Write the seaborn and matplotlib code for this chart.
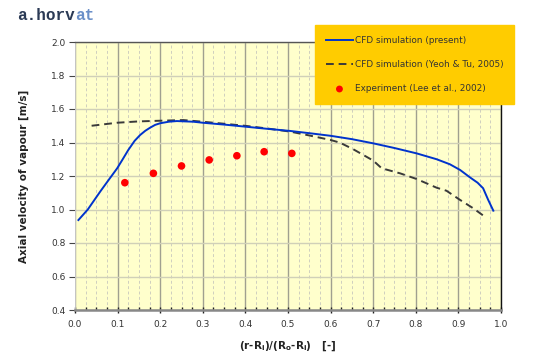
import matplotlib
matplotlib.use("Agg")
import matplotlib.pyplot as plt
import seaborn as sns
import pandas as pd
from matplotlib.ticker import MultipleLocator

# Data
present_x = [0.008, 0.03, 0.06, 0.08, 0.099, 0.112, 0.125, 0.14, 0.153, 0.165, 0.176, 0.188, 0.2,
             0.22, 0.239, 0.278, 0.3, 0.35, 0.402, 0.45, 0.505, 0.552, 0.6, 0.65, 0.7, 0.75,
             0.802, 0.849, 0.88, 0.904, 0.927, 0.945, 0.958, 0.97, 0.982]
present_y = [0.937, 1.0, 1.11, 1.18, 1.246, 1.30, 1.355, 1.41, 1.445, 1.47, 1.488, 1.505, 1.515,
             1.524, 1.528, 1.524, 1.518, 1.507, 1.494, 1.482, 1.469, 1.455, 1.44, 1.42, 1.395,
             1.367, 1.335, 1.30, 1.27, 1.236, 1.192, 1.16, 1.127, 1.057, 0.993]

yeoh_x = [0.039, 0.099, 0.15, 0.2, 0.254, 0.3, 0.35, 0.402, 0.45, 0.505, 0.552, 0.6, 0.622, 0.653,
          0.7, 0.72, 0.763, 0.802, 0.849, 0.872, 0.904, 0.935, 0.962]
yeoh_y = [1.50, 1.518, 1.526, 1.530, 1.534, 1.524, 1.512, 1.499, 1.484, 1.465, 1.441, 1.415, 1.399,
          1.36, 1.292, 1.246, 1.216, 1.182, 1.13, 1.112, 1.057, 1.007, 0.957]

exp_x = [0.117, 0.184, 0.250, 0.315, 0.380, 0.444, 0.509]
exp_y = [1.16, 1.216, 1.26, 1.296, 1.321, 1.345, 1.335]

x_ticks = [0.0, 0.1, 0.2, 0.3, 0.4, 0.5, 0.6, 0.7, 0.8, 0.9, 1.0]
y_ticks = [0.4, 0.6, 0.8, 1.0, 1.2, 1.4, 1.6, 1.8, 2.0]

df_p = pd.DataFrame({"x": present_x, "y": present_y})
df_y = pd.DataFrame({"x": yeoh_x, "y": yeoh_y})
df_e = pd.DataFrame({"x": exp_x, "y": exp_y})

fig = plt.figure(figsize=(5.6, 3.63), dpi=100)
ax = fig.add_axes([75/560, 1-310/363, 426/560, 268/363])
ax.set_facecolor("#FFFFCC")

sns.lineplot(data=df_p, x="x", y="y", ax=ax, color="#0033CC", linewidth=1.4,
             label="CFD simulation (present)", sort=False, zorder=4)
sns.lineplot(data=df_y, x="x", y="y", ax=ax, color="#3a3a3a", linewidth=1.4,
             linestyle=(0, (4, 2.5)), label="CFD simulation (Yeoh & Tu, 2005)", sort=False, zorder=3)
sns.scatterplot(data=df_e, x="x", y="y", ax=ax, color="#FF0000", s=30, edgecolor="none",
                label="Experiment (Lee et al., 2002)", zorder=5)

ax.set_xlim(0, 1.0)
ax.set_ylim(0.4, 2.0)
ax.set_xticks(x_ticks)
ax.set_yticks(y_ticks)
ax.set_xticklabels([f"{v:.1f}" for v in x_ticks])
ax.set_yticklabels([f"{v:.1f}" for v in y_ticks])
ax.xaxis.set_minor_locator(MultipleLocator(0.025))

ax.grid(which="major", axis="x", color="#a0a090", linewidth=1.0, linestyle="-")
ax.grid(which="minor", axis="x", color="#cfcfbf", linewidth=0.7, linestyle=(0, (3, 2.5)))
ax.grid(which="major", axis="y", color="#d0d0b8", linewidth=1.0, linestyle="-")
ax.set_axisbelow(True)

ax.tick_params(axis="x", which="major", direction="inout", length=5, width=1, color="#222222",
               labelsize=6.5, labelcolor="#333333", pad=5)
ax.tick_params(axis="x", which="minor", direction="in", length=2.5, width=1, color="#222222")
ax.tick_params(axis="y", which="major", direction="out", length=4, width=0.8, color="#444444",
               labelsize=6.5, labelcolor="#333333", pad=3)

for side, col, lw in [("top", "#555555", 1.0), ("right", "#111111", 1.0),
                      ("bottom", "#888888", 1.8), ("left", "#cccccc", 0.6)]:
    ax.spines[side].set_color(col)
    ax.spines[side].set_linewidth(lw)

ax.set_xlabel(r"(r-R$_\mathregular{i}$)/(R$_\mathregular{o}$-R$_\mathregular{i}$)   [-]",
              fontsize=7.5, fontweight="bold", color="#222222", labelpad=7)
ax.set_ylabel("Axial velocity of vapour [m/s]", fontsize=7.5, fontweight="bold",
              color="#222222", labelpad=16)

handles, labels = ax.get_legend_handles_labels()
ax.get_legend().remove()
leg = fig.legend(handles, labels, loc="upper left", bbox_to_anchor=(315/560, 1-25/363),
                 frameon=True, fancybox=False, facecolor="#FFCC00", edgecolor="#FFCC00",
                 framealpha=1, fontsize=6.4, labelspacing=1.7, handlelength=3.0,
                 handletextpad=0.2, borderpad=1.25, borderaxespad=0, markerscale=0.9)
leg.set_zorder(10)
for t in leg.get_texts():
    t.set_color("#333333")

t1 = fig.text(17/560, 1-16/363, "a.horv", fontsize=11.5, fontweight="bold",
              family="Liberation Mono", color="#2b3a55", va="center", ha="left")
fig.canvas.draw()
bb = t1.get_window_extent(renderer=fig.canvas.get_renderer())
fig.text(bb.x1 / fig.bbox.width, 1-16/363, "at", fontsize=11.5, fontweight="bold",
         family="Liberation Mono", color="#6a8fc8", va="center", ha="left")

fig.savefig("out.png", dpi=100)
